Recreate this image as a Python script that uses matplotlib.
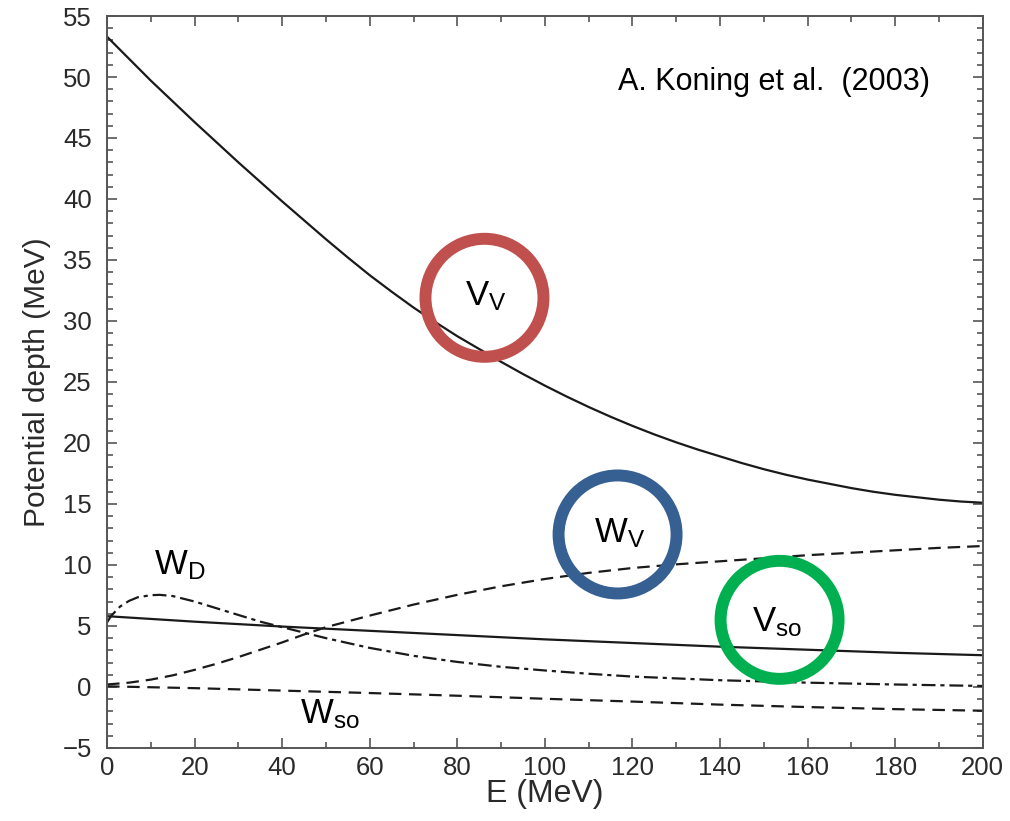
import matplotlib
matplotlib.use("Agg")
import matplotlib.pyplot as plt
from matplotlib.patches import Ellipse
from matplotlib.ticker import MultipleLocator

plt.rcParams["font.family"] = ["Liberation Sans", "DejaVu Sans"]
plt.rcParams["mathtext.fontset"] = "custom"
plt.rcParams["mathtext.rm"] = "Liberation Sans"
plt.rcParams["mathtext.it"] = "Liberation Sans"
plt.rcParams["lines.scale_dashes"] = False

# values (E in MeV, depth in MeV)
E_VV = [0, 5, 10, 15, 20, 25, 30, 35, 40, 45, 50, 55, 60, 65, 70, 75, 80, 85, 90, 95, 100,
        105, 110, 115, 120, 125, 130, 135, 140, 145, 150, 155, 160, 165, 170, 175, 180, 185, 190, 195, 200]
VV = [53.3, 51.5, 49.7, 48.0, 46.3, 44.65, 43.0, 41.4, 39.8, 38.25, 36.7, 35.2, 33.75, 32.4, 31.1,
      29.9, 28.75, 27.7, 26.65, 25.65, 24.7, 23.8, 22.95, 22.15, 21.4, 20.7, 20.05, 19.45, 18.9,
      18.35, 17.85, 17.4, 17.0, 16.65, 16.3, 16.0, 15.75, 15.55, 15.35, 15.2, 15.1]

E_WV = [0, 5, 10, 15, 20, 25, 30, 35, 40, 45, 50, 60, 70, 80, 90, 100, 110, 120, 130, 140, 150,
        160, 170, 180, 190, 200]
WV = [0.2, 0.35, 0.6, 0.95, 1.4, 1.9, 2.45, 3.05, 3.65, 4.3, 4.9, 5.85, 6.75, 7.55, 8.25, 8.85,
      9.35, 9.75, 10.05, 10.3, 10.55, 10.8, 11.0, 11.2, 11.4, 11.55]

E_WD = [0, 1, 3, 5, 7, 10, 12, 15, 20, 25, 30, 35, 40, 45, 50, 60, 70, 80, 90, 100, 110, 120,
        140, 160, 180, 200]
WD = [5.3, 5.85, 6.6, 7.05, 7.35, 7.52, 7.55, 7.45, 7.0, 6.45, 5.9, 5.35, 4.9, 4.45, 4.0, 3.2,
      2.55, 2.05, 1.65, 1.35, 1.08, 0.85, 0.55, 0.35, 0.2, 0.08]

E_VSO = [0, 20, 40, 60, 80, 100, 120, 140, 160, 180, 200]
VSO = [5.8, 5.35, 4.95, 4.6, 4.25, 3.9, 3.6, 3.3, 3.05, 2.8, 2.6]

E_WSO = [0, 20, 40, 60, 80, 100, 120, 140, 160, 180, 200]
WSO = [0.05, -0.1, -0.3, -0.5, -0.72, -0.97, -1.2, -1.45, -1.65, -1.82, -1.95]

# highlight circles: (E, depth, colour)
CIRCLES = [(86.2, 31.9, "#C0504D"), (116.6, 12.5, "#376092"), (153.6, 5.5, "#00B050")]

fig = plt.figure(figsize=(10.1, 8.21), dpi=100)
ax = fig.add_axes([0.106, 0.089, 0.867, 0.8915])

line_col = "#1a1a1a"
ax.plot(E_VV, VV, color=line_col, lw=1.6)
ax.plot(E_VSO, VSO, color=line_col, lw=1.6)
ax.plot(E_WV, WV, color=line_col, lw=1.6, linestyle=(0, (9, 5)))
ax.plot(E_WSO, WSO, color=line_col, lw=1.6, linestyle=(0, (9, 5.5)))
ax.plot(E_WD, WD, color=line_col, lw=1.6, linestyle=(0, (10, 3.5, 3, 3.5)))

ax.set_xlim(0, 200)
ax.set_ylim(-5, 55)
ax.xaxis.set_major_locator(MultipleLocator(20))
ax.xaxis.set_minor_locator(MultipleLocator(10))
ax.yaxis.set_major_locator(MultipleLocator(5))
ax.yaxis.set_minor_locator(MultipleLocator(1))
ax.tick_params(which="both", direction="in", top=True, right=True, color="#555555", width=1.2)
ax.tick_params(which="major", length=7, labelsize=18.5, labelcolor="#2a2a2a")
ax.tick_params(axis="x", which="major", pad=6)
ax.tick_params(axis="y", which="major", pad=11)
ax.tick_params(which="minor", length=4)
for sp in ax.spines.values():
    sp.set_color("#555555")
    sp.set_linewidth(1.4)

ax.set_xlabel("E (MeV)", fontsize=23, labelpad=-1, color="#2a2a2a")
ax.set_ylabel("Potential depth (MeV)", fontsize=21.5, labelpad=8, color="#2a2a2a")

ax.text(116.8, 49.6, "A. Koning et al.  (2003)", fontsize=22, va="center", ha="left")

lab_fs = 25
ax.text(86.5, 32.0, r"$\mathrm{V_V}$", fontsize=lab_fs, ha="center", va="center")
ax.text(117.0, 12.6, r"$\mathrm{W_V}$", fontsize=lab_fs, ha="center", va="center")
ax.text(153.0, 5.3, r"$\mathrm{V_{so}}$", fontsize=lab_fs, ha="center", va="center")
ax.text(16.5, 10.0, r"$\mathrm{W_D}$", fontsize=lab_fs, ha="center", va="center")
ax.text(51.0, -2.2, r"$\mathrm{W_{so}}$", fontsize=lab_fs, ha="center", va="center")

# circles drawn as ellipses in data units so they look round on screen
px_per_E = 0.867 * 1010 / 200
px_per_V = 0.8915 * 821 / 60
r_px = 59
for cx, cy, col in CIRCLES:
    ax.add_patch(Ellipse((cx, cy), 2 * r_px / px_per_E, 2 * r_px / px_per_V,
                         fill=False, edgecolor=col, lw=8.6, clip_on=False, zorder=5))

fig.savefig("out.png", dpi=100)
